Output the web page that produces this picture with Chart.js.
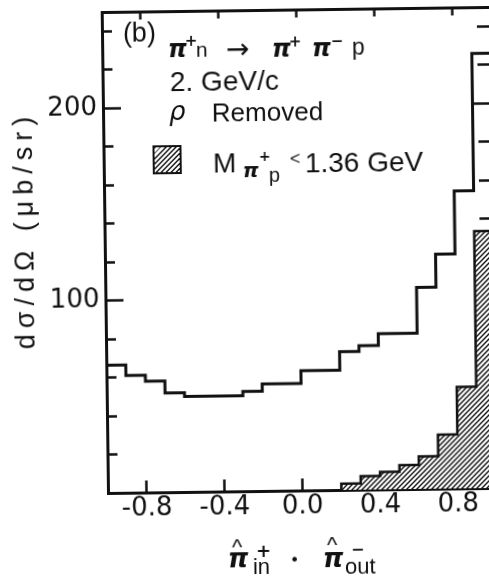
<!DOCTYPE html>
<html>
<head>
<meta charset="utf-8">
<script src="https://cdn.jsdelivr.net/npm/chart.js@4/dist/chart.umd.min.js"></script>
<style>
  html, body { margin:0; padding:0; background:#fff; width:489px; height:580px; overflow:hidden; }
  #wrap { position:absolute; left:0; top:0; width:500px; height:580px; transform-origin:108px 493px; transform:rotate(-0.75deg); }
  #c { position:absolute; left:0; top:0; }
  .t { position:absolute; white-space:nowrap; line-height:1; color:#111; }
  .swatch { position:absolute; box-sizing:border-box; border:2.5px solid #111;
            background:repeating-linear-gradient(135deg, #111 0 1.3px, #fff 1.3px 3.6px); }
</style>
</head>
<body>
<div id="wrap"><canvas id="c" width="500" height="580"></canvas></div>
<script>
// ---------------- data ----------------
const binEdges = [-1.0,-0.9,-0.8,-0.7,-0.6,-0.5,-0.4,-0.3,-0.2,-0.1,0.0,0.1,0.2,0.3,0.4,0.5,0.6,0.7,0.8,0.9,1.0];
const allEvents = [66.4,61.0,57.8,51.6,49.6,49.6,49.6,51.9,55.6,55.6,62.2,62.2,71.9,74.9,81.0,81.0,104.7,121.9,154.6,226.0];
const deltaEdges = [0.2,0.3,0.4,0.5,0.6,0.7,0.8,0.9,1.0];
const deltaEvents = [3.3,7.0,9.1,12.5,16.9,28.1,52.7,133.6];
const xTickValues = [-0.8,-0.4,0.0,0.4,0.8];
const xTickLabels = ['-0.8','-0.4','0.0','0.4','0.8'];
const yMajorTicks = [100,200];
const yMajorLabels = ['100','200'];
const yMinorTicks = [20,40,60,80,120,140,160,180,220,240];

// ---------------- helpers ----------------
const INK = '#111';
function stepPoints(edges, vals, closed) {
  const pts = [];
  if (closed) pts.push({x: edges[0], y: 0});
  vals.forEach((v, i) => { pts.push({x: edges[i], y: v}); pts.push({x: edges[i+1], y: v}); });
  if (closed) pts.push({x: edges[edges.length-1], y: 0});
  return pts;
}
function setTicks(values) { return s => { s.ticks = values.map(v => ({value: v})); }; }
function fixWidth(w) { return s => { s.width = w; s.paddingTop = 0; s.paddingBottom = 0; }; }
function fixHeight(h) { return s => { s.height = h; s.paddingLeft = 0; s.paddingRight = 0; }; }

const cv = document.getElementById('c');
const ctx = cv.getContext('2d');
const pc = document.createElement('canvas');
pc.width = 5; pc.height = 5;
const g = pc.getContext('2d');
g.fillStyle = '#fff'; g.fillRect(0,0,5,5);
g.strokeStyle = INK; g.lineWidth = 1.4;
g.beginPath();
g.moveTo(0,5); g.lineTo(5,0);
g.moveTo(-1,1); g.lineTo(1,-1);
g.moveTo(4,6); g.lineTo(6,4);
g.stroke();
const hatch = ctx.createPattern(pc, 'repeat');

function axisGrid(len, w) {
  return { display:true, drawOnChartArea:false, drawTicks:true, tickLength:len, tickWidth:w, tickColor:INK, color:INK };
}
const border = { display:true, width:3, color:INK };

Chart.defaults.font.family = 'DejaVu Sans';
Chart.defaults.color = INK;

new Chart(ctx, {
  type: 'line',
  data: {
    datasets: [
      { data: stepPoints(binEdges, allEvents, false), borderColor: INK, borderWidth: 3,
        pointRadius: 0, fill: false, tension: 0, borderJoinStyle: 'miter', borderCapStyle: 'butt' },
      { data: stepPoints(deltaEdges, deltaEvents, true), borderColor: INK, borderWidth: 2.5,
        backgroundColor: hatch, pointRadius: 0, fill: 'origin', tension: 0, borderJoinStyle: 'miter' }
    ]
  },
  options: {
    responsive: false, animation: false, devicePixelRatio: 1,
    layout: { padding: { left: 0, top: 12, right: 3, bottom: 0 } },
    plugins: { legend: { display: false }, tooltip: { enabled: false } },
    scales: {
      x: { type:'linear', axis:'x', position:'bottom', min:-1, max:1,
           afterBuildTicks: setTicks(xTickValues),
           ticks: { callback: (v, i) => xTickLabels[i], font: { size: 26 }, color: INK, padding: 13, maxRotation: 0, autoSkip: false },
           grid: axisGrid(-12, 2.5), border: border,
           afterFit: fixHeight(87) },
      x2: { type:'linear', axis:'x', position:'top', min:-1, max:1,
           afterBuildTicks: setTicks(xTickValues),
           ticks: { display:false }, grid: axisGrid(-8, 2.5), border: border,
           afterFit: fixHeight(0) },
      y: { type:'linear', axis:'y', position:'left', min:0, max:250, weight: 1,
           afterBuildTicks: setTicks(yMajorTicks),
           ticks: { callback: (v, i) => yMajorLabels[i], font: { size: 26 }, color: INK, padding: 24 },
           grid: axisGrid(-18, 2.5), border: border,
           afterFit: fixWidth(108) },
      yMinor: { type:'linear', axis:'y', position:'left', min:0, max:250, weight: 0,
           afterBuildTicks: setTicks(yMinorTicks),
           ticks: { display:false }, grid: axisGrid(-10, 2.5), border: border,
           afterFit: fixWidth(0) },
      yR: { type:'linear', axis:'y', position:'right', min:0, max:250, weight: 0,
           afterBuildTicks: setTicks(yMajorTicks),
           ticks: { display:false }, grid: axisGrid(-20, 2.5), border: border,
           afterFit: fixWidth(0) },
      yRMinor: { type:'linear', axis:'y', position:'right', min:0, max:250, weight: 1,
           afterBuildTicks: setTicks(yMinorTicks),
           ticks: { display:false }, grid: axisGrid(-14, 2.5), border: border,
           afterFit: fixWidth(0) }
    }
  }
});

// ---------------- annotations (HTML text) ----------------
const wrap = document.getElementById('wrap');
const ROT = 0.75 * Math.PI / 180, OX = 108, OY = 493;
function unrot(x, y) {
  const dx = x - OX, dy = y - OY, c = Math.cos(ROT), s = Math.sin(ROT);
  return [OX + dx * c - dy * s, OY + dx * s + dy * c];
}
function addText(html, x, base, size, style) {
  const [ux, uy] = unrot(x, base);
  const el = document.createElement('span');
  el.className = 't';
  el.innerHTML = html;
  el.style.left = ux + 'px';
  el.style.top = (uy - 0.846 * size) + 'px';
  el.style.fontSize = size + 'px';
  el.style.fontFamily = (style && style.family) || 'Liberation Sans';
  if (style && style.italic) el.style.fontStyle = 'italic';
  if (style && style.bold) el.style.fontWeight = 'bold';
  wrap.appendChild(el);
  return el;
}
const PI = { family: 'DejaVu Sans', italic: true, bold: true };
const SUP = { family: 'DejaVu Sans', bold: true };

addText('(b)', 123, 43, 27);
addText('π', 168, 57, 24, PI);
addText('+', 185, 47, 15, SUP);
addText('n', 196, 57, 21);
addText('→', 226, 59, 28, { family: 'DejaVu Sans' });
addText('π', 272, 57, 24, PI);
addText('+', 289, 47, 15, SUP);
addText('π', 312, 57, 24, PI);
addText('−', 331, 47, 15, SUP);
addText('p', 352, 55, 23);

addText('2. GeV/c', 170, 92, 28);
addText('ρ', 169, 120, 26, { family: 'DejaVu Sans', italic: true });
addText('Removed', 212, 122, 26);

(function () {
  const [cx, cy] = unrot(167.5, 159.5);
  const sw = document.createElement('div');
  sw.className = 'swatch';
  sw.style.left = (cx - 14.5) + 'px'; sw.style.top = (cy - 14.5) + 'px';
  sw.style.width = '29px'; sw.style.height = '29px';
  wrap.appendChild(sw);
})();
addText('M', 213, 173, 28);
addText('π', 243, 177, 20, PI);
addText('+', 259, 161, 14, SUP);
addText('p', 269, 182, 20);
addText('&lt;', 290, 165, 18);
addText('1.36 GeV', 305, 173, 28);

// x axis title
addText('^', 232, 555, 22);
addText('π', 228, 567, 26, PI);
addText('+', 256, 557, 18, SUP);
addText('in', 253, 575, 22);
addText('•', 290, 566, 16, { family: 'DejaVu Sans' });
addText('^', 327, 553, 22);
addText('π', 323, 567, 26, PI);
addText('−', 351, 555, 16, SUP);
addText('out', 345, 575, 22);

// y axis title
(function () {
  const [cx, cy] = unrot(25, 230);
  const el = document.createElement('div');
  el.className = 't';
  el.textContent = 'dσ/dΩ (μb/sr)';
  el.style.fontFamily = 'Liberation Sans';
  el.style.fontSize = '27px';
  el.style.letterSpacing = '6px';
  el.style.left = cx + 'px'; el.style.top = cy + 'px';
  el.style.transform = 'translate(-50%, -50%) rotate(-90deg)';
  wrap.appendChild(el);
})();
</script>
</body>
</html>
